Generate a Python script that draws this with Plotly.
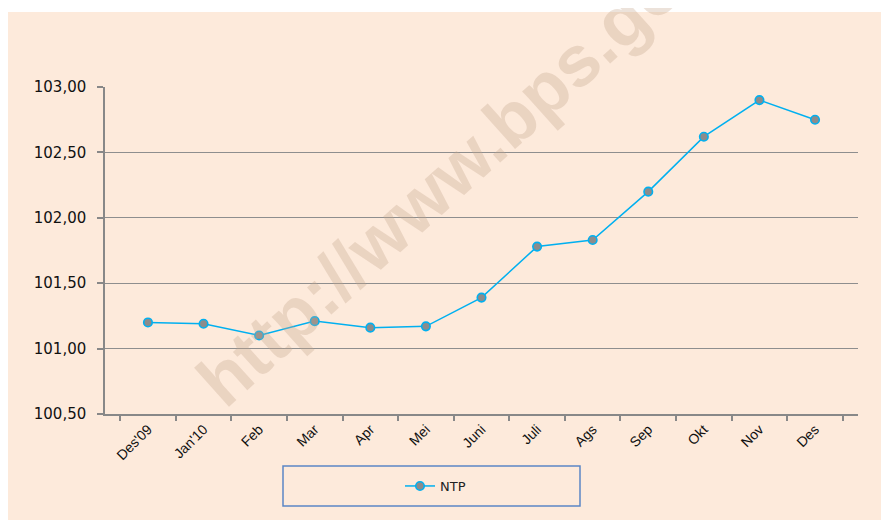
import plotly.graph_objects as go

months = ["Des'09", "Jan'10", "Feb", "Mar", "Apr", "Mei", "Juni", "Juli", "Ags", "Sep", "Okt", "Nov", "Des"]
ntp = [101.20, 101.19, 101.10, 101.21, 101.16, 101.17, 101.39, 101.78, 101.83, 102.20, 102.62, 102.90, 102.75]
y_ticks = [100.5, 101.0, 101.5, 102.0, 102.5, 103.0]

OFF = 8  # page body margin
W, H = 889 - OFF, 520 - OFF
# plot area in screen pixels (reference)
SL, SR, ST, SB = 105, 858, 87, 414
L, R, T, B = SL - OFF, SR - OFF, ST - OFF, SB - OFF

def px(x):  # screen x -> paper
    return (x - SL) / (SR - SL)

def py(y):  # screen y -> paper
    return (SB - y) / (SB - ST)

fig = go.Figure()
fig.add_trace(go.Scatter(
    x=months, y=ntp, mode="lines+markers", name="NTP",
    line=dict(color="#00B0F0", width=1.5),
    marker=dict(symbol="circle", size=8.5, color="#8C8C8C",
                line=dict(color="#00B0F0", width=1.6)),
))

shapes = [
    dict(type="rect", xref="paper", yref="paper", layer="below",
         x0=px(7), x1=px(900), y0=py(530), y1=py(12),
         fillcolor="#FDEADB", line=dict(width=0)),
    dict(type="rect", xref="paper", yref="paper",
         x0=px(283), x1=px(580), y0=py(506), y1=py(466),
         fillcolor="rgba(0,0,0,0)", line=dict(color="#5B87C6", width=1.5)),
]

fig.add_annotation(
    text="<b>http://www.bps.go.id</b>", xref="paper", yref="paper",
    x=px(470), y=py(156), xanchor="center", yanchor="middle",
    showarrow=False, textangle=-42,
    font=dict(family="Liberation Sans", size=72, color="rgba(195,165,140,0.32)"),
)

fig.update_layout(
    width=W, height=H,
    margin=dict(l=L, r=W - R, t=T, b=H - B),
    paper_bgcolor="white",
    plot_bgcolor="rgba(0,0,0,0)",
    separators=",.",
    shapes=shapes,
    showlegend=True,
    legend=dict(x=px(400), y=py(486), xanchor="left", yanchor="middle",
                bgcolor="rgba(0,0,0,0)", borderwidth=0,
                font=dict(family="DejaVu Sans", size=13, color="#222222")),
    xaxis=dict(
        type="category", tickangle=-45, tickson="boundaries",
        ticks="outside", ticklen=5, tickcolor="#888888", tickwidth=1.5,
        showline=True, linecolor="#888888", linewidth=1.5,
        showgrid=False, zeroline=False,
        tickfont=dict(family="Liberation Sans", size=14, color="#111111"),
    ),
    yaxis=dict(
        range=[100.5, 103.0], tickvals=y_ticks, tickformat=".2f",
        ticks="outside", ticklen=6, tickcolor="#888888", tickwidth=1.5,
        ticklabelstandoff=8,
        showline=True, linecolor="#888888", linewidth=1.5,
        showgrid=True, gridcolor="#8E8E8E", gridwidth=1.3,
        zeroline=False,
        tickfont=dict(family="DejaVu Sans", size=15, color="#111111"),
    ),
)

fig.write_html("out.html")
